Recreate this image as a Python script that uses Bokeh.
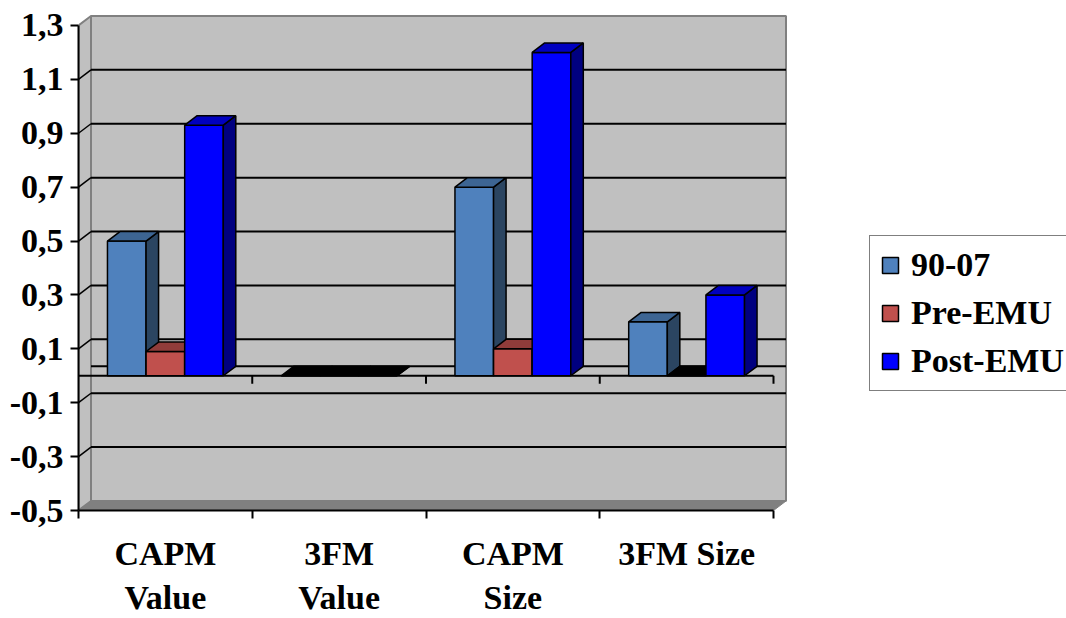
from bokeh.plotting import figure
from bokeh.models import (Range1d, FixedTicker, CustomJSTickFormatter, Legend,
                          LegendItem, LinearAxis)
from bokeh.embed import file_html
from bokeh.resources import INLINE

# ---- data -------------------------------------------------------------
categories = ["CAPM Value", "3FM Value", "CAPM Size", "3FM Size"]
category_labels = ["CAPM\nValue", "3FM\nValue", "CAPM\nSize", "3FM Size"]
series_names = ["90-07", "Pre-EMU", "Post-EMU"]
values_9007 = [0.50, 0.0, 0.70, 0.20]
values_pre_emu = [0.09, 0.0, 0.10, 0.0]
values_post_emu = [0.93, 0.0, 1.20, 0.30]
y_ticks = [-0.5, -0.3, -0.1, 0.1, 0.3, 0.5, 0.7, 0.9, 1.1, 1.3]

series_values = [values_9007, values_pre_emu, values_post_emu]
front_colors = ["#4F81BD", "#C0504D", "#0000FF"]
top_colors = ["#3D6593", "#903C3A", "#0000C0"]
side_colors = ["#2B4561", "#602826", "#000080"]

# ---- geometry ---------------------------------------------------------
W, H = 1066, 618
LEFT, BOTTOM = 78, 107           # frame offsets in px
PX_CAT, PX_VAL = 173.75, 270.0   # px per category / per unit of value
Y_MIN, Y_MAX = -0.5, 1.3
DX = 12.5 / PX_CAT               # depth offset (category units)
DY = 9.5 / PX_VAL                # depth offset (value units)
N = len(categories)
BAR_W = 2.0 / 9.0
GROUP_OFF = 1.0 / 6.0
FONT = "Liberation Serif"

p = figure(width=W, height=H, output_backend="svg", toolbar_location=None,
           x_range=Range1d(0, (W - LEFT) / PX_CAT),
           y_range=Range1d(Y_MIN, Y_MAX + 25 / PX_VAL),
           x_axis_type=None, y_axis_type=None,
           min_border_left=LEFT, min_border_right=0, min_border_top=0,
           min_border_bottom=BOTTOM)
p.outline_line_color = None
p.background_fill_color = "white"
p.border_fill_color = "white"
p.xgrid.visible = False
p.ygrid.visible = False

WALL = "#C0C0C0"
EDGE = "#808080"

# back wall
p.quad(left=[DX], right=[N + DX], bottom=[Y_MIN + DY], top=[Y_MAX + DY],
       fill_color=WALL, line_color=EDGE, line_width=2)
# left side wall
p.patch([0, DX, DX, 0], [Y_MIN, Y_MIN + DY, Y_MAX + DY, Y_MAX],
        fill_color=WALL, line_color=EDGE, line_width=2)
# floor strip
p.patch([0, N, N + DX, DX], [Y_MIN, Y_MIN, Y_MIN + DY, Y_MIN + DY],
        fill_color=EDGE, line_color=EDGE, line_width=1)

# gridlines on back wall and diagonals on the side wall
grid_vals = [v for v in y_ticks if Y_MIN < v < Y_MAX]
p.segment(x0=[DX] * len(grid_vals), y0=[v + DY for v in grid_vals],
          x1=[N + DX] * len(grid_vals), y1=[v + DY for v in grid_vals],
          line_color="black", line_width=2)
p.segment(x0=[0] * len(grid_vals), y0=grid_vals,
          x1=[DX] * len(grid_vals), y1=[v + DY for v in grid_vals],
          line_color="black", line_width=1.5)

# zero plane: back line, front line and its ticks
p.segment(x0=[DX], y0=[DY], x1=[N + DX], y1=[DY], line_color="black", line_width=2)
p.segment(x0=[0], y0=[0], x1=[N], y1=[0], line_color="black", line_width=2)
tick_x = list(range(1, N + 1))
p.segment(x0=tick_x, y0=[0] * N, x1=tick_x, y1=[-8 / PX_VAL] * N,
          line_color="black", line_width=2)

# 3D bars
front_renderers = []
for j, vals in enumerate(series_values):
    lefts = [i + GROUP_OFF + j * BAR_W for i in range(N)]
    rights = [x + BAR_W for x in lefts]
    fr = p.quad(left=lefts, right=rights, bottom=[0] * N, top=vals,
                fill_color=front_colors[j], line_color="black", line_width=1.5)
    front_renderers.append(fr)
    side_xs, side_ys, top_xs, top_ys, top_fill = [], [], [], [], []
    for x0, x1, v in zip(lefts, rights, vals):
        side_xs.append([x1, x1 + DX, x1 + DX, x1])
        side_ys.append([0, DY, v + DY, v])
        top_xs.append([x0, x1, x1 + DX, x0 + DX])
        top_ys.append([v, v, v + DY, v + DY])
        top_fill.append(top_colors[j] if v != 0 else "black")
    p.patches(side_xs, side_ys, fill_color=side_colors[j], line_color="black",
              line_width=1.5)
    p.patches(top_xs, top_ys, fill_color=top_fill, line_color="black",
              line_width=1.5)

# value axis
yaxis = LinearAxis(
    ticker=FixedTicker(ticks=y_ticks, minor_ticks=[]),
    formatter=CustomJSTickFormatter(code="return tick.toFixed(1).replace('.', ',');"),
    bounds=(Y_MIN, Y_MAX),
    major_label_text_font=FONT, major_label_text_font_style="bold",
    major_label_text_font_size="34px", major_label_text_color="black")
yaxis.axis_line_color = "black"
yaxis.axis_line_width = 2
yaxis.major_tick_out = 8
yaxis.major_tick_in = 0
yaxis.major_tick_line_width = 2
yaxis.major_label_standoff = 7
p.add_layout(yaxis, "left")

# category axis
xaxis = LinearAxis(
    ticker=FixedTicker(ticks=[i + 0.5 for i in range(N)],
                       minor_ticks=list(range(N + 1))),
    formatter=CustomJSTickFormatter(args=dict(labels=category_labels),
                                    code="return labels[Math.floor(tick)];"),
    bounds=(0, N),
    major_label_text_font=FONT, major_label_text_font_style="bold",
    major_label_text_font_size="34px", major_label_text_color="black")
xaxis.axis_line_color = "black"
xaxis.axis_line_width = 2
xaxis.major_tick_out = 0
xaxis.major_tick_in = 0
xaxis.minor_tick_out = 8
xaxis.minor_tick_in = 0
xaxis.minor_tick_line_color = "black"
xaxis.minor_tick_line_width = 2
xaxis.major_label_standoff = 16
p.add_layout(xaxis, "below")

# legend
legend = Legend(items=[LegendItem(label=name, renderers=[r])
                       for name, r in zip(series_names, front_renderers)],
                location=(869 - LEFT, H - BOTTOM - 392),
                orientation="vertical", margin=0, padding=10, spacing=10,
                glyph_width=20, glyph_height=20, label_standoff=11,
                border_line_color="black", border_line_width=1.5,
                background_fill_color="white", background_fill_alpha=1.0,
                label_text_font=FONT, label_text_font_style="bold",
                label_text_font_size="34px", label_text_color="black")
p.add_layout(legend, "center")

open("out.html", "w").write(file_html(p, INLINE))
